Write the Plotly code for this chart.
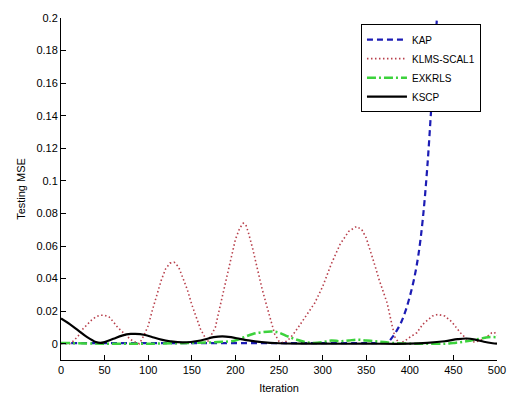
import plotly.graph_objects as go

# ---------------- data ----------------
kap_x = [0, 50, 100, 150, 200, 250, 300, 350, 370, 375, 380, 385, 390, 395, 400, 405, 410, 415, 420, 425, 430, 435, 440]
kap_y = [0.0004, 0.0004, 0.0004, 0.0004, 0.0004, 0.0004, 0.0004, 0.0004, 0.0005, 0.001, 0.004, 0.008, 0.013, 0.020, 0.029, 0.040, 0.055, 0.077, 0.108, 0.148, 0.190, 0.240, 0.300]

klms_x = [0, 5, 10, 15, 20, 25, 30, 35, 40, 45, 50, 55, 60, 65, 70, 75, 80, 85, 90,
          95, 100, 105, 110, 115, 120, 125, 130, 135, 140, 145, 150, 155, 160, 165, 168,
          172, 177, 182, 190, 195, 200, 205, 209, 212, 215, 220, 225, 230, 235, 240, 245, 250, 255,
          260, 266, 272, 278, 284, 291, 300, 310, 320, 330, 339, 345, 350, 355, 360, 365, 370, 374, 380, 383, 388,
          395, 400, 408, 415, 420, 426, 432, 440, 448, 453, 458, 465, 470, 475, 480, 485, 490, 494, 497, 500]
klms_y = [0.0, 0.0, 0.0, 0.002, 0.005, 0.009, 0.012, 0.0145, 0.0165, 0.0175, 0.0175, 0.0165, 0.0135, 0.010, 0.0075, 0.005, 0.0025, 0.001, 0.0,
          0.005, 0.011, 0.021, 0.030, 0.039, 0.046, 0.0495, 0.050, 0.047, 0.040, 0.033, 0.024, 0.016, 0.009, 0.004, 0.001,
          0.005, 0.010, 0.022, 0.040, 0.053, 0.064, 0.071, 0.074, 0.073, 0.068, 0.058, 0.046, 0.035, 0.025, 0.016, 0.006, 0.0015, 0.0005,
          0.002, 0.0055, 0.010, 0.015, 0.020, 0.025, 0.035, 0.049, 0.061, 0.069, 0.072, 0.070, 0.065, 0.057, 0.048, 0.039, 0.031, 0.025, 0.0105, 0.004, 0.0,
          0.002, 0.004, 0.0067, 0.012, 0.0145, 0.017, 0.018, 0.017, 0.0135, 0.010, 0.0067, 0.003, 0.0015, 0.001, 0.002, 0.003, 0.005, 0.0067, 0.007, 0.005]

exk_x = [0, 50, 100, 150, 180, 200, 210, 220, 230, 242, 250, 260, 270, 280, 290, 300, 310, 320, 330, 340, 350, 360, 370, 380, 400, 420, 440, 450, 460, 470, 480, 490, 500]
exk_y = [0.0005, 0.0, 0.0, 0.0005, 0.001, 0.002, 0.004, 0.006, 0.007, 0.0075, 0.0068, 0.0045, 0.0025, 0.001, 0.0005, 0.001, 0.002, 0.0015, 0.002, 0.0025, 0.002, 0.0015, 0.001, 0.0005, 0.0, 0.0, 0.0, 0.0005, 0.001, 0.002, 0.003, 0.004, 0.004]

kscp_x = [0, 10, 20, 30, 40, 45, 50, 60, 70, 80, 85, 95, 105, 115, 125, 140, 160, 175, 185, 195, 205, 215, 230, 250, 300, 350, 400, 420, 440, 455, 465, 475, 485, 495, 500]
kscp_y = [0.0155, 0.012, 0.008, 0.004, 0.001, 0.0005, 0.001, 0.003, 0.005, 0.006, 0.006, 0.0055, 0.004, 0.0025, 0.0015, 0.0008, 0.002, 0.004, 0.0045, 0.004, 0.003, 0.002, 0.001, 0.0003, 0.0, 0.0, 0.0, 0.0005, 0.0015, 0.0028, 0.0032, 0.0025, 0.0012, 0.0003, 0.0]

x_ticks = [0, 50, 100, 150, 200, 250, 300, 350, 400, 450, 500]
y_ticks = [0, 0.02, 0.04, 0.06, 0.08, 0.1, 0.12, 0.14, 0.16, 0.18, 0.2]
y_tick_text = ["0", "0.02", "0.04", "0.06", "0.08", "0.1", "0.12", "0.14", "0.16", "0.18", "0.2"]

# ---------------- figure ----------------
fig = go.Figure()
fig.add_trace(go.Scatter(x=kap_x, y=kap_y, mode="lines", name="KAP",
                         line=dict(color="#1c1cb4", width=2.2, dash="6px,4px", shape="spline")))
fig.add_trace(go.Scatter(x=klms_x, y=klms_y, mode="lines", name="KLMS-SCAL1",
                         line=dict(color="#b8404c", width=1.6, dash="1.5px,2.5px")))
fig.add_trace(go.Scatter(x=exk_x, y=exk_y, mode="lines", name="EXKRLS",
                         line=dict(color="#3cd23c", width=2.5, dash="9px,3px,2px,3px", shape="spline")))
fig.add_trace(go.Scatter(x=kscp_x, y=kscp_y, mode="lines", name="KSCP",
                         line=dict(color="black", width=2.2, shape="spline")))

font = dict(family="Liberation Sans, Arial, sans-serif", size=11, color="black")

fig.update_layout(
    width=508, height=394,
    margin=dict(l=61, r=11, t=18, b=34, autoexpand=False),
    paper_bgcolor="white", plot_bgcolor="white",
    font=font,
    showlegend=True,
    legend=dict(x=0.688, y=0.982, xanchor="left", yanchor="top",
                bgcolor="white", bordercolor="black", borderwidth=1,
                font=dict(family="Liberation Sans, Arial, sans-serif", size=10, color="black"),
                itemwidth=40, tracegroupgap=0),
    xaxis=dict(range=[0, 500], tickvals=x_ticks, ticks="inside", ticklen=5,
               tickcolor="black", showline=True, linecolor="black", linewidth=1,
               showgrid=False, zeroline=False, mirror=False, automargin=False,
               title=dict(text="Iteration", standoff=18, font=dict(size=11))),
    yaxis=dict(range=[-0.01, 0.2], tickvals=y_ticks, ticktext=y_tick_text,
               ticks="inside", ticklen=5, tickcolor="black",
               showline=True, linecolor="black", linewidth=1,
               showgrid=False, zeroline=False, mirror=False, automargin=False,
               title=dict(text="Testing MSE", standoff=8, font=dict(size=11))),
)

fig.write_html("out.html", config={"displayModeBar": False},
               post_script="document.body.style.margin='0px';document.body.style.overflow='hidden';")
